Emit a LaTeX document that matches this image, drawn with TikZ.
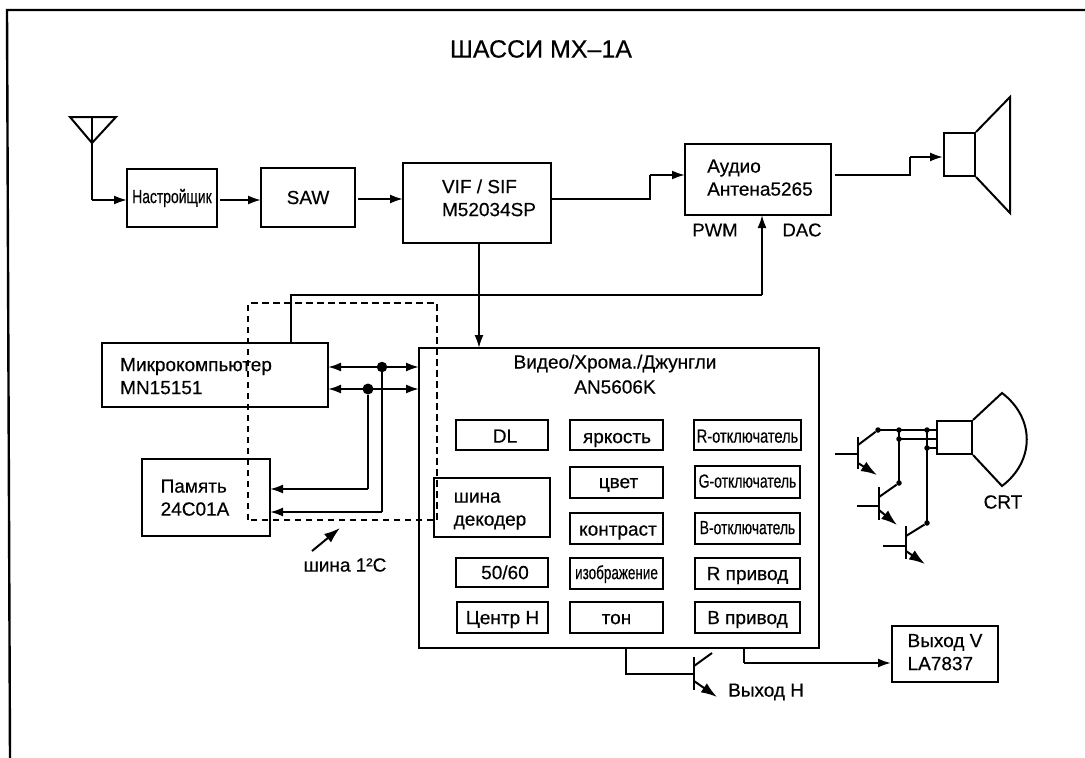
\documentclass[tikz,border=0pt]{standalone}
\usepackage{fontspec}
\setmainfont[FakeBold=0.4]{Liberation Sans}
\usetikzlibrary{arrows.meta}
\newcommand{\off}[5]{\vbox{\vskip #3pt\hbox{\hskip #1pt\begin{tabular}{@{}l@{}}#5\end{tabular}\hskip #2pt}\vskip #4pt}}
\newcommand{\nar}[2]{\scalebox{#1}[1]{#2}}
\newcommand{\bx}[6][]{\node[boxn,#1,minimum width=#4-#2,minimum height=#5-#3] (#6) at ({(#2+#4)/2},{(#3+#5)/2})}
\tikzset{
  boxn/.style={draw,rectangle,line width=2pt,inner sep=0pt,font=\fontsize{19}{23}\selectfont},
  txt/.style={inner sep=0pt,font=\fontsize{19}{23}\selectfont},
  wire/.style={line width=2pt},
  arr/.style={line width=2pt,-{Latex[length=13pt,width=9pt]}},
  dbl/.style={line width=2pt,{Latex[length=13pt,width=9pt]}-{Latex[length=13pt,width=9pt]}},
  bus/.style={line width=2.8pt,dash pattern=on 6.5pt off 4.5pt},
  dot/.style={circle,fill=black,inner sep=0pt,minimum size=#1},
  dot/.default=5pt,
  bar/.style={line width=2pt},
  emit/.style={line width=2pt,-{Latex[length=16pt,width=11pt]}}
}
\begin{document}
\begin{tikzpicture}[x=1pt,y=-1pt,line join=miter]
\useasboundingbox (0,0) rectangle (1085,758);
% frame
\coordinate (fa) at (10,758); \coordinate (fb) at (7,10); \coordinate (fc) at (1085,10);
\draw[line width=2.4pt] (fa) -- (fb) -- (fc);
\node[inner sep=0pt,font=\fontsize{25}{29}\selectfont] (title) at (541,49) {ШАССИ MX–1A};
% antenna
\coordinate (ana) at (70,117); \coordinate (anb) at (116,117); \coordinate (anc) at (92,143); \coordinate (and) at (92,117);
\draw[wire] (ana) -- (anb) -- (anc) -- cycle;
% top row
\bx{127}{169}{217}{227}{tuner} {\nar{0.73}{Настройщик}};
\bx{261}{168}{355}{227}{saw} {SAW};
\bx{403}{163}{551}{243}{vif} {\off{24}{0}{0}{6}{VIF / SIF\\M52034SP}};
\bx{685}{144}{831}{215}{audio} {\off{4}{0}{0}{0}{Аудио\\Антена5265}};
\node[txt,font=\fontsize{18.5}{22}\selectfont] (pwm) at (715,230) {PWM};
\node[txt,font=\fontsize{18.5}{22}\selectfont] (dac) at (802,230) {DAC};
\draw[wire] (and) -- (92,200);
\draw[arr] (92,200) -- (127,200);
\draw[arr] (220,200) -- (261,200);
\draw[arr] (358,199) -- (403,199);
\draw[wire] (551,199) -- (650,199) -- (650,175);
\draw[arr] (650,175) -- (685,175);
\draw[wire] (835,175) -- (910,175) -- (910,157);
% speaker
\bx{944}{133}{975}{176}{spk} {};
\draw[arr] (910,157) -- (spk.west |- 0,157);
\draw[wire] (spk.north east) -- (1010,97) -- (1010,213) -- (spk.south east);
% video box
\bx{419}{348}{819}{648}{big} {};
\node[txt,font=\fontsize{19}{25}\selectfont] (bigt) at (615,376) {\begin{tabular}{@{}c@{}}Видео/Хрома./Джунгли\\AN5606K\end{tabular}};
\draw[arr] (vif.south -| 479,0) -- (479,348);
% micro, memory
\bx{102}{343}{328}{407}{micro} {\off{0}{38}{6}{0}{Микрокомпьютер\\MN15151}};
\bx{142}{459}{270}{536}{mem} {\off{0}{22}{4}{0}{Память\\24C01A}};
\draw[wire] (291,343) -- (291,295) -- (762,295);
\draw[arr] (762,295) -- (762,215);
\draw[dbl] (328,367) -- (419,367);
\draw[dbl] (328,389) -- (419,389);
\node[dot=10.5pt] (d1) at (382,367) {};
\node[dot=11pt] (d2) at (368,389) {};
\draw[wire] (d2) -- (368,489);
\draw[arr] (368,489) -- (270,489);
\draw[wire] (d1) -- (382,512);
\draw[arr] (382,512) -- (270,512);
% inner boxes
\bx{456}{420}{548}{450}{dl} {\off{6}{0}{6}{0}{DL}};
\bx{570}{420}{663}{450}{bri} {\off{1}{0}{7}{0}{яркость}};
\bx{694}{420}{801}{450}{rc} {\off{0}{0}{6}{0}{\nar{0.77}{R-отключатель}}};
\bx{434}{478}{550}{537}{dec} {\off{0}{4}{4}{0}{шина\\декодер}};
\bx{570}{467}{663}{498}{col} {\off{4}{0}{2}{0}{цвет}};
\bx{695}{466}{800}{498}{gc} {\off{0}{0}{2}{0}{\nar{0.735}{G-отключатель}}};
\bx{570}{513}{663}{544}{con} {\off{3}{0}{5}{0}{контраст}};
\bx{695}{513}{800}{544}{bc} {\off{0}{0}{2}{0}{\nar{0.73}{B-отключатель}}};
\bx{456}{558}{548}{587}{sf} {\off{6}{0}{4}{0}{50/60}};
\bx{570}{558}{663}{589}{img} {\off{0}{0}{2}{0}{\nar{0.71}{изображение}}};
\bx{695}{558}{800}{589}{rd} {\off{0}{0}{4}{0}{R привод}};
\bx{457}{602}{548}{633}{hc} {\off{0}{0}{4}{0}{Центр Н}};
\bx{570}{602}{663}{633}{ton} {\off{0}{0}{4}{0}{тон}};
\bx{695}{602}{800}{633}{bd} {\off{0}{0}{4}{0}{В привод}};
% bus
\coordinate (b1) at (248,520); \coordinate (b2) at (248,303); \coordinate (b3) at (437,303); \coordinate (b4) at (437,520);
\draw[bus] (b1) -- (b2) -- (b3) -- (b4) -- cycle;
\node[txt] (i2c) at (345,565) {шина 1²C};
\coordinate (ia) at (312,551); \coordinate (ib) at (340,528);
\draw[line width=2pt,-{Latex[length=16pt,width=11pt]}] (ia) -- (ib);
% bottom
\coordinate (th) at (694,674);
\draw[wire] (big.south -| 626,0) -- (626,674) -- (th);
\draw[bar] (694,657) -- (694,690);
\draw[bar] (694,666) -- (712,653);
\draw[emit] (694,681) -- (717,697);
\node[txt,anchor=west] (hout) at (728,692) {Выход Н};
\bx{892}{626}{998}{682}{vout} {\off{0}{0}{0}{0}{Выход V\\LA7837}};
\draw[wire] (big.south -| 744,0) -- (744,663);
\draw[arr] (744,663) -- (vout.west |- 0,663);
% CRT
\bx{937}{421}{972}{454}{crt} {};
\draw[wire] (crt.north east) -- (1002,393) .. controls (1035,418) and (1035,461) .. (1002,486) -- (crt.south east);
\node[txt] (crtl) at (1003,502) {CRT};
\coordinate (q1) at (878,430); \coordinate (q2) at (899,439); \coordinate (q3) at (927,448);
\draw[wire] (q1) -- (937,430);
\draw[wire] (q2) -- (937,439);
\draw[wire] (q3) -- (937,448);
\draw[wire] (899,430) -- (899,483);
\draw[wire] (927,430) -- (927,523);
\foreach \n/\p in {a/{878,430},b/{899,430},c/{927,430},d/{899,439},e/{927,448},f/{899,483},g/{927,523}}
  \node[dot=5.5pt] (j\n) at (\p) {};
% transistors
\draw[bar] (858,437) -- (858,469);
\draw[wire] (835,454) -- (858,454);
\draw[wire] (858,445) -- (ja);
\draw[emit] (858,463) -- (877,475);
\draw[bar] (879,487) -- (879,520);
\draw[wire] (857,506) -- (879,506);
\draw[wire] (879,497) -- (jf);
\draw[emit] (879,510) -- (897,525);
\draw[bar] (906,526) -- (906,559);
\draw[wire] (883,546) -- (906,546);
\draw[wire] (906,536) -- (jg);
\draw[emit] (906,551) -- (925,564);
\end{tikzpicture}
\end{document}
